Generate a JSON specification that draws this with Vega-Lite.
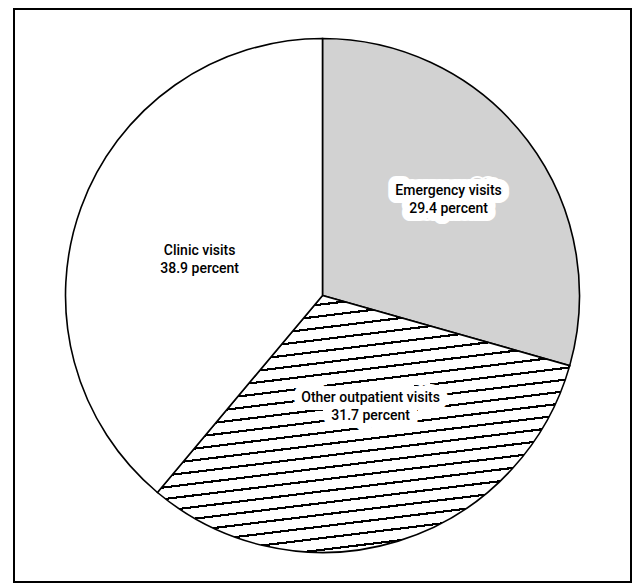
{
  "$schema": "https://vega.github.io/schema/vega-lite/v6.json",
  "autosize": {"type": "fit", "contains": "padding"},
  "width": 634,
  "height": 584,
  "padding": {"left": 14, "top": 9, "right": 3, "bottom": 2},
  "background": "white",
  "view": {"stroke": "black", "strokeWidth": 2},
  "config": {"view": {"stroke": "black", "strokeWidth": 2}},
  "data": {
    "values": [
      {"cat": "Emergency visits", "pct": 29.4, "idx": 1, "label": "Emergency visits\n29.4 percent"},
      {"cat": "Other outpatient visits", "pct": 31.7, "idx": 2, "label": "Other outpatient visits\n31.7 percent"},
      {"cat": "Clinic visits", "pct": 38.9, "idx": 3, "label": "Clinic visits\n38.9 percent"}
    ]
  },
  "encoding": {
    "theta": {"field": "pct", "type": "quantitative", "stack": true},
    "order": {"field": "idx", "type": "quantitative"}
  },
  "layer": [
    {
      "mark": {"type": "arc", "outerRadius": 257, "stroke": "black", "strokeWidth": 1.6},
      "encoding": {
        "fill": {
          "condition": [
            {
              "test": "datum.cat === 'Other outpatient visits'",
              "value": {
                "gradient": "linear", "x1": 0, "y1": 0, "x2": 0.227, "y2": 1.152,
                "stops": [
                  {"offset": 0, "color": "white"},
                  {"offset": 0.015, "color": "white"}, {"offset": 0.015, "color": "black"}, {"offset": 0.022, "color": "black"}, {"offset": 0.022, "color": "white"},
                  {"offset": 0.053, "color": "white"}, {"offset": 0.053, "color": "black"}, {"offset": 0.060, "color": "black"}, {"offset": 0.060, "color": "white"},
                  {"offset": 0.091, "color": "white"}, {"offset": 0.091, "color": "black"}, {"offset": 0.098, "color": "black"}, {"offset": 0.098, "color": "white"},
                  {"offset": 0.129, "color": "white"}, {"offset": 0.129, "color": "black"}, {"offset": 0.136, "color": "black"}, {"offset": 0.136, "color": "white"},
                  {"offset": 0.167, "color": "white"}, {"offset": 0.167, "color": "black"}, {"offset": 0.174, "color": "black"}, {"offset": 0.174, "color": "white"},
                  {"offset": 0.205, "color": "white"}, {"offset": 0.205, "color": "black"}, {"offset": 0.212, "color": "black"}, {"offset": 0.212, "color": "white"},
                  {"offset": 0.243, "color": "white"}, {"offset": 0.243, "color": "black"}, {"offset": 0.250, "color": "black"}, {"offset": 0.250, "color": "white"},
                  {"offset": 0.281, "color": "white"}, {"offset": 0.281, "color": "black"}, {"offset": 0.288, "color": "black"}, {"offset": 0.288, "color": "white"},
                  {"offset": 0.319, "color": "white"}, {"offset": 0.319, "color": "black"}, {"offset": 0.326, "color": "black"}, {"offset": 0.326, "color": "white"},
                  {"offset": 0.357, "color": "white"}, {"offset": 0.357, "color": "black"}, {"offset": 0.364, "color": "black"}, {"offset": 0.364, "color": "white"},
                  {"offset": 0.395, "color": "white"}, {"offset": 0.395, "color": "black"}, {"offset": 0.402, "color": "black"}, {"offset": 0.402, "color": "white"},
                  {"offset": 0.433, "color": "white"}, {"offset": 0.433, "color": "black"}, {"offset": 0.440, "color": "black"}, {"offset": 0.440, "color": "white"},
                  {"offset": 0.471, "color": "white"}, {"offset": 0.471, "color": "black"}, {"offset": 0.478, "color": "black"}, {"offset": 0.478, "color": "white"},
                  {"offset": 0.509, "color": "white"}, {"offset": 0.509, "color": "black"}, {"offset": 0.516, "color": "black"}, {"offset": 0.516, "color": "white"},
                  {"offset": 0.547, "color": "white"}, {"offset": 0.547, "color": "black"}, {"offset": 0.554, "color": "black"}, {"offset": 0.554, "color": "white"},
                  {"offset": 0.585, "color": "white"}, {"offset": 0.585, "color": "black"}, {"offset": 0.592, "color": "black"}, {"offset": 0.592, "color": "white"},
                  {"offset": 0.623, "color": "white"}, {"offset": 0.623, "color": "black"}, {"offset": 0.630, "color": "black"}, {"offset": 0.630, "color": "white"},
                  {"offset": 0.661, "color": "white"}, {"offset": 0.661, "color": "black"}, {"offset": 0.668, "color": "black"}, {"offset": 0.668, "color": "white"},
                  {"offset": 0.699, "color": "white"}, {"offset": 0.699, "color": "black"}, {"offset": 0.706, "color": "black"}, {"offset": 0.706, "color": "white"},
                  {"offset": 0.737, "color": "white"}, {"offset": 0.737, "color": "black"}, {"offset": 0.744, "color": "black"}, {"offset": 0.744, "color": "white"},
                  {"offset": 0.775, "color": "white"}, {"offset": 0.775, "color": "black"}, {"offset": 0.782, "color": "black"}, {"offset": 0.782, "color": "white"},
                  {"offset": 0.813, "color": "white"}, {"offset": 0.813, "color": "black"}, {"offset": 0.820, "color": "black"}, {"offset": 0.820, "color": "white"},
                  {"offset": 0.851, "color": "white"}, {"offset": 0.851, "color": "black"}, {"offset": 0.858, "color": "black"}, {"offset": 0.858, "color": "white"},
                  {"offset": 0.889, "color": "white"}, {"offset": 0.889, "color": "black"}, {"offset": 0.896, "color": "black"}, {"offset": 0.896, "color": "white"},
                  {"offset": 0.927, "color": "white"}, {"offset": 0.927, "color": "black"}, {"offset": 0.934, "color": "black"}, {"offset": 0.934, "color": "white"},
                  {"offset": 0.965, "color": "white"}, {"offset": 0.965, "color": "black"}, {"offset": 0.972, "color": "black"}, {"offset": 0.972, "color": "white"},
                  {"offset": 1, "color": "white"}
                ]
              }
            },
            {"test": "datum.cat === 'Emergency visits'", "value": "#d2d2d2"}
          ],
          "value": "white"
        }
      }
    },
    {
      "mark": {"type": "text", "radius": 158, "dy": -9, "lineBreak": "\n", "lineHeight": 18, "font": "Roboto", "fontWeight": 500, "fontSize": 14, "fill": "white", "stroke": "white", "strokeWidth": 16, "strokeJoin": "round"},
      "encoding": {
        "text": {"condition": {"test": "datum.cat === 'Emergency visits'", "field": "label"}, "value": ""}
      }
    },
    {
      "mark": {"type": "text", "radius": 121, "thetaOffset": -0.11, "dy": -9, "lineBreak": "\n", "lineHeight": 18, "font": "Roboto", "fontWeight": 500, "fontSize": 14, "fill": "white", "stroke": "white", "strokeWidth": 16, "strokeJoin": "round"},
      "encoding": {
        "text": {"condition": {"test": "datum.cat === 'Other outpatient visits'", "field": "label"}, "value": ""}
      }
    },
    {
      "mark": {"type": "text", "radius": 158, "dy": -9, "lineBreak": "\n", "lineHeight": 18, "font": "Roboto", "fontWeight": 500, "fontSize": 14, "fill": "black"},
      "encoding": {
        "text": {"condition": {"test": "datum.cat === 'Emergency visits'", "field": "label"}, "value": ""}
      }
    },
    {
      "mark": {"type": "text", "radius": 121, "thetaOffset": -0.11, "dy": -9, "lineBreak": "\n", "lineHeight": 18, "font": "Roboto", "fontWeight": 500, "fontSize": 14, "fill": "black"},
      "encoding": {
        "text": {"condition": {"test": "datum.cat === 'Other outpatient visits'", "field": "label"}, "value": ""}
      }
    },
    {
      "mark": {"type": "text", "radius": 128, "thetaOffset": -0.065, "dy": -9, "lineBreak": "\n", "lineHeight": 18, "font": "Roboto", "fontWeight": 500, "fontSize": 14, "fill": "black"},
      "encoding": {
        "text": {"condition": {"test": "datum.cat === 'Clinic visits'", "field": "label"}, "value": ""}
      }
    }
  ]
}
